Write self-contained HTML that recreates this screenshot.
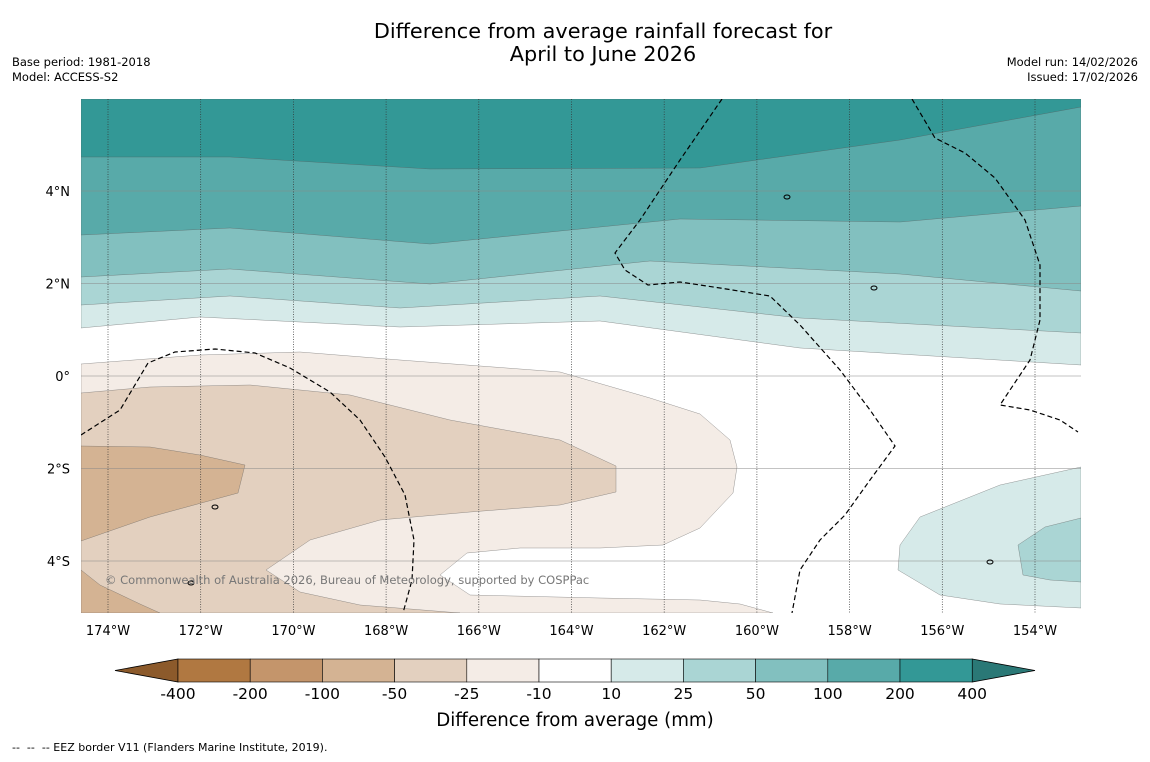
<!DOCTYPE html>
<html><head><meta charset="utf-8"><style>
body{margin:0;background:#fff;width:1150px;height:758px;overflow:hidden;font-family:"DejaVu Sans",sans-serif}
</style></head><body>
<svg width="1150" height="758" viewBox="0 0 1150 758" xmlns="http://www.w3.org/2000/svg" font-family="DejaVu Sans, sans-serif">
<rect width="1150" height="758" fill="#fff"/>
<text x="603" y="38" font-size="20.8" text-anchor="middle">Difference from average rainfall forecast for</text>
<text x="603" y="61" font-size="20.8" text-anchor="middle">April to June 2026</text>
<text x="12" y="66" font-size="11.5">Base period: 1981-2018</text>
<text x="12" y="81" font-size="11.5">Model: ACCESS-S2</text>
<text x="1138" y="66" font-size="11.5" text-anchor="end">Model run: 14/02/2026</text>
<text x="1138" y="81" font-size="11.5" text-anchor="end">Issued: 17/02/2026</text>
<defs><clipPath id="pc"><rect x="81" y="99" width="1000" height="514"/></clipPath></defs>
<g id="plot" clip-path="url(#pc)"></g>
<g id="axes"></g>
<g id="cbar"></g>
<text x="575" y="726" font-size="18.2" text-anchor="middle">Difference from average (mm)</text>
<text x="12" y="751" font-size="11" xml:space="preserve" style="white-space:pre">--  --  -- EEZ border V11 (Flanders Marine Institute, 2019).</text>
</svg>
<script>
const lonTicks=[-174,-172,-170,-168,-166,-164,-162,-160,-158,-156,-154];
const latTicks=[4,2,0,-2,-4];
const levels=[-400,-200,-100,-50,-25,-10,10,25,50,100,200,400];
const colors=["#b07841","#c4956b","#d4b393","#e3d0bf","#f4ece6","#ffffff","#d6eae9","#aad5d4","#82c0bf","#58aaa9","#339896"];
const NS="http://www.w3.org/2000/svg";
const X=lon=>108+(lon+174)*46.35;
const Y=lat=>376-lat*46.25;
function mk(t,a,p){const e=document.createElementNS(NS,t);for(const k in a)e.setAttribute(k,a[k]);p.appendChild(e);return e;}
const plot=document.getElementById('plot'),axes=document.getElementById('axes'),cb=document.getElementById('cbar');
mk('rect',{x:81,y:99,width:1000,height:514,fill:'#fff'},plot);
function band(pts,fill,name,top){
  let d;
  if(top) d='M81,99 '+pts.map(p=>'L'+p[0]+','+p[1]).join(' ')+' L1081,99 Z';
  else d='M'+pts.map(p=>p[0]+','+p[1]).join(' L')+' Z';
  const e=mk('path',{d:d,fill:fill,stroke:'#555',"stroke-width":0.3},plot);
  
  
}
band([[81,328],[200,317],[400,327],[600,321],[800,348],[1081,365]],colors[6],'band-10-25',true);
band([[81,305],[230,296],[400,308],[600,296],[800,318],[1081,333]],colors[7],'band-25-50',true);
band([[81,277],[230,269],[430,284],[650,261],[900,274],[1081,291]],colors[8],'band-50-100',true);
band([[81,235],[230,228],[430,244],[680,219],[900,222],[1081,206]],colors[9],'band-100-200',true);
band([[81,157],[230,157],[430,169],[700,168],[900,140],[1081,107]],colors[10],'band-200-400',true);
band([[81,364],[200,355],[300,352],[400,360],[560,372],[650,398],[700,414],[730,440],[737,467],[733,493],[700,528],[663,545],[600,548],[520,548],[467,553],[440,575],[470,595],[600,598],[700,600],[740,604],[773,613],[81,613]],colors[4],'band-neg10-neg25',false);
band([[81,393],[150,387],[250,385],[350,395],[450,420],[560,440],[616,466],[616,492],[560,505],[470,512],[380,520],[310,540],[266,570],[300,592],[360,605],[460,613],[81,613]],colors[3],'band-neg25-neg50',false);
band([[81,446],[150,447],[200,455],[245,465],[238,493],[150,517],[81,541]],colors[2],'band-neg50-neg100',false);
band([[81,570],[100,585],[140,604],[160,613],[81,613]],colors[2],'band-neg50-corner',false);
band([[1081,467],[1000,485],[920,517],[900,545],[898,570],[940,595],[1000,604],[1081,608]],colors[6],'band-10-25-southeast',false);
band([[1081,518],[1045,527],[1018,545],[1023,575],[1050,580],[1081,582]],colors[7],'band-25-50-southeast',false);
lonTicks.forEach(l=>{const e=mk('line',{x1:X(l),x2:X(l),y1:99,y2:613,stroke:'#333',"stroke-width":0.7,"stroke-dasharray":"1,1.5"},plot);
});
latTicks.forEach(l=>{const e=mk('line',{x1:81,x2:1081,y1:Y(l),y2:Y(l),stroke:'#888',"stroke-width":0.6},plot);
});
const eez=["M81,435 L120,410 L148,363 L175,352 L215,349 L255,353 L290,368 L330,392 L360,420 L385,457 L405,495 L414,540 L412,580 L403,613",
"M722,99 L680,160 L640,220 L615,253 L625,270 L648,285 L680,282 L720,288 L770,296 L800,325 L840,370 L870,410 L895,446 L870,480 L845,515 L820,540 L800,570 L792,613",
"M912,99 L935,138 L965,153 L995,178 L1025,220 L1040,265 L1040,320 L1030,360 L1000,405 L1030,410 L1060,420 L1078,432"];
eez.forEach(d=>{const e=mk('path',{d:d,fill:'none',stroke:'#000',"stroke-width":1.2,"stroke-dasharray":"5,3"},plot);
});
[[787,197],[874,288],[215,507],[191,583],[990,562]].forEach(p=>{const e=mk('ellipse',{cx:p[0],cy:p[1],rx:3,ry:2,fill:'none',stroke:'#000',"stroke-width":1},plot);
});
const ct=mk('text',{x:105,y:584,"font-size":11.5,fill:'#777'},plot);ct.textContent='© Commonwealth of Australia 2026, Bureau of Meteorology, supported by COSPPac';

lonTicks.forEach(l=>{const t=mk('text',{x:X(l),y:635,"font-size":13,"text-anchor":"middle"},axes);t.textContent=Math.abs(l)+'°W';
});
latTicks.forEach(l=>{const t=mk('text',{x:70,y:Y(l)+5,"font-size":13,"text-anchor":"end"},axes);t.textContent=l===0?'0°':Math.abs(l)+'°'+(l>0?'N':'S');
});
const cx0=178,cw=72.2,cy=659,ch=23;
mk('polygon',{points:`115,670.5 ${cx0},${cy} ${cx0},${cy+ch}`,fill:'#8c5a2b',stroke:'#000',"stroke-width":0.8},cb);
const ex=cx0+cw*colors.length;
mk('polygon',{points:`${ex},${cy} 1035,670.5 ${ex},${cy+ch}`,fill:'#2a7876',stroke:'#000',"stroke-width":0.8},cb);
colors.forEach((c,i)=>{const r=mk('rect',{x:cx0+i*cw,y:cy,width:cw,height:ch,fill:c,stroke:'#000',"stroke-width":0.6},cb);
});
levels.forEach((v,i)=>{const t=mk('text',{x:cx0+i*cw,y:699,"font-size":15.5,"text-anchor":"middle"},cb);t.textContent=v;
});
</script>
</body></html>
